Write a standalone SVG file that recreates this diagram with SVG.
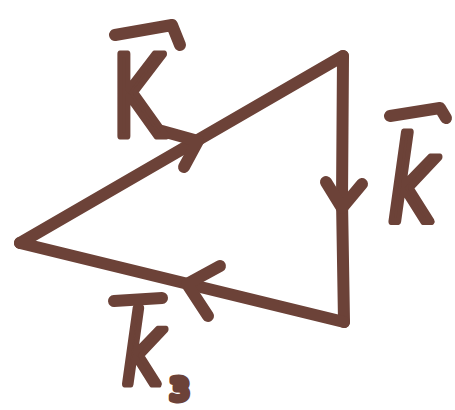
<svg xmlns="http://www.w3.org/2000/svg" width="455" height="410" viewBox="0 0 455 410">
<style>
.ln{fill:none;stroke:#6c4238;stroke-width:12;stroke-linecap:round;stroke-linejoin:round}
.lb{font-family:"DejaVu Sans",sans-serif;fill:#6c4238;stroke:#6c4238;stroke-width:7;stroke-linejoin:round}
</style>
<rect width="455" height="410" fill="#ffffff"/>
<g id="connectors">
<path class="ln" d="M343,56 L20,243"/>
<path class="ln" d="M343,56 L342,200 L344,322"/>
<path class="ln" d="M344,322 L20,243"/>
<path class="ln" d="M162,131 L198,141 L184,167"/>
<path class="ln" d="M326,182 L342,208 L362,184"/>
<path class="ln" d="M220,266 L187,284 L208,316"/>
</g>
<g id="label-k1">
<path class="ln" d="M115,35 L172,25 L180,45"/>
<text class="lb" x="112" y="136" font-size="112" transform="translate(112 0) scale(0.72 1) translate(-112 0)">K</text>
</g>
<g id="label-k2">
<path class="ln" d="M390,116 L440,108 L446,118"/>
<text class="lb" x="388" y="222" font-size="118" font-style="italic" transform="translate(388 0) scale(0.72 1) translate(-388 0)">k</text>
</g>
<g id="label-k3">
<path class="ln" d="M114,301 L162,298"/>
<text class="lb" x="122" y="384" font-size="100" font-style="italic" transform="translate(122 0) scale(0.72 1) translate(-122 0)">k</text>
<text class="lb" x="170" y="400" font-size="30" stroke-width="4">3</text>
</g>
</svg>
